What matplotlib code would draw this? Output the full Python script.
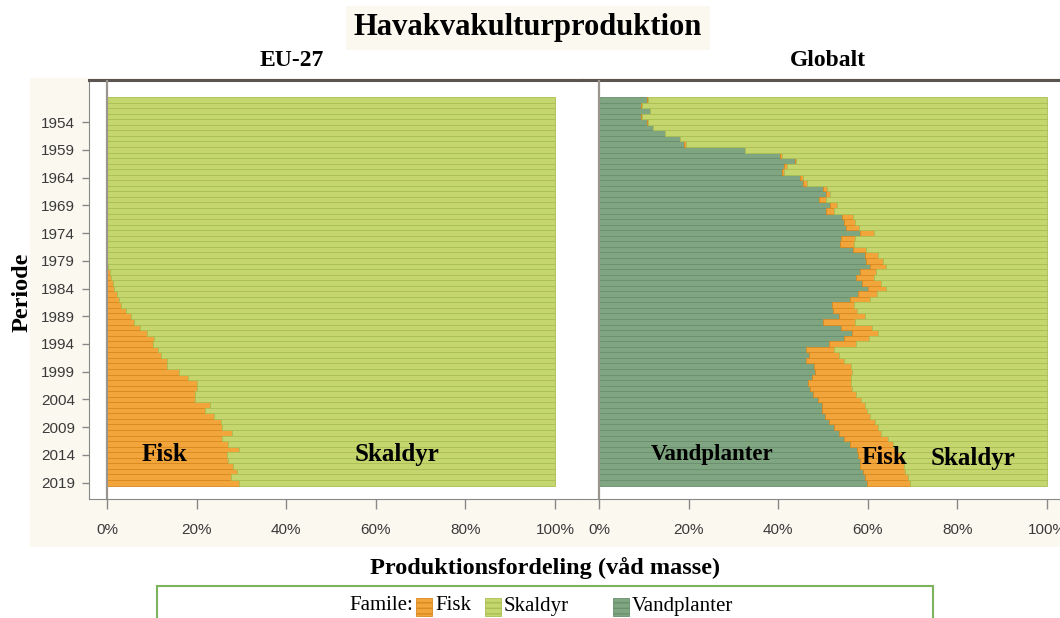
import numpy as np
import matplotlib.pyplot as plt
from matplotlib.patches import Rectangle

years = list(range(1950, 2020))

# andel i procent (våd masse)
eu_fisk = [0, 0, 0, 0, 0, 0, 0, 0, 0, 0,
           0, 0, 0, 0, 0, 0, 0, 0, 0, 0,
           0, 0, 0, 0, 0, 0, 0, 0, 0, 0.1,
           0.3, 0.6, 0.9, 1.3, 1.6, 2.2, 2.8, 3.2, 4.3, 5.4,
           6.0, 7.3, 9.0, 10.6, 10.3, 11.3, 12.1, 13.3, 13.5, 16.0,
           18.2, 20.1, 20.0, 19.7, 19.6, 23.0, 21.9, 24.0, 25.5, 25.6,
           28.0, 25.6, 27.1, 29.5, 26.8, 27.0, 28.2, 29.0, 27.8, 29.5]
eu_vand = [0, 0, 0, 0, 0, 0, 0, 0, 0, 0,
           0, 0, 0, 0, 0, 0, 0, 0, 0, 0,
           0, 0, 0, 0, 0, 0, 0, 0, 0, 0,
           0, 0, 0, 0, 0, 0, 0, 0, 0, 0,
           0, 0, 0, 0, 0, 0, 0, 0, 0, 0,
           0, 0, 0, 0, 0, 0, 0, 0, 0, 0,
           0, 0, 0, 0, 0, 0, 0, 0, 0, 0]

glob_vand = [10.8, 9.3, 11.3, 9.4, 10.7, 12.0, 14.7, 18.2, 19.1, 32.6,
             40.5, 43.8, 41.3, 40.9, 44.9, 45.5, 50.0, 50.6, 49.1, 51.6,
             50.6, 54.3, 54.6, 55.2, 58.3, 54.0, 53.9, 56.8, 59.4, 59.6,
             60.4, 58.3, 57.4, 58.8, 60.1, 57.8, 56.1, 52.0, 52.2, 53.7,
             50.1, 54.0, 56.5, 54.8, 51.4, 46.3, 46.8, 46.3, 48.0, 48.2,
             47.5, 46.7, 47.1, 47.7, 49.0, 49.8, 49.8, 50.5, 51.3, 52.5,
             53.5, 54.8, 56.1, 57.7, 57.9, 58.3, 58.3, 59.0, 59.4, 59.8]
glob_fisk = [0.1, 0.3, 0.0, 0.3, 0.3, 0.0, 0.1, 0.0, 0.3, 0.1,
             0.4, 0.3, 0.6, 0.4, 0.6, 1.0, 1.0, 1.0, 1.6, 1.6,
             1.9, 2.5, 2.6, 2.8, 3.2, 3.1, 3.1, 2.9, 3.0, 3.7,
             3.7, 3.6, 4.1, 4.1, 4.0, 4.2, 4.5, 5.0, 5.4, 5.8,
             7.1, 7.0, 5.7, 5.4, 5.9, 6.2, 6.9, 8.3, 8.3, 8.2,
             8.7, 9.5, 9.5, 9.6, 9.4, 9.6, 10.0, 9.9, 10.3, 9.8,
             9.4, 9.8, 9.5, 8.8, 9.7, 9.7, 9.9, 9.4, 9.7, 9.7]

ytick_years = [1954, 1959, 1964, 1969, 1974, 1979, 1984, 1989, 1994, 1999,
               2004, 2009, 2014, 2019]
xticks = [0, 20, 40, 60, 80, 100]

c_fisk, e_fisk = '#F2A53A', '#D9891E'
c_skal, e_skal = '#C5D66E', '#A8BE52'
c_vand, e_vand = '#80A581', '#6A8F6E'
cream = '#FBF8F0'
serif = ['Liberation Serif', 'DejaVu Serif']

plt.rcParams['font.family'] = ['Liberation Sans', 'DejaVu Sans']

W, H = 1060, 618
PX_PER_PCT = 4.48
fig = plt.figure(figsize=(W / 100, H / 100), dpi=100)


def fx(px):
    return px / W


def fy(py):
    return 1 - py / H


# creme baggrund bag plotområdet
fig.patches.append(Rectangle((fx(30), fy(547)), fx(1030), 469 / H, transform=fig.transFigure,
                             facecolor=cream, edgecolor='none', zorder=-5))


def panel(ax, width_px, vand, fisk, show_y):
    y = np.array(years)
    v = np.array(vand)
    f = np.array(fisk)
    s = 100 - v - f
    ax.barh(y, v, height=1.0, color=c_vand, edgecolor=e_vand, linewidth=0.6)
    ax.barh(y, f, left=v, height=1.0, color=c_fisk, edgecolor=e_fisk, linewidth=0.6)
    ax.barh(y, s, left=v + f, height=1.0, color=c_skal, edgecolor=e_skal, linewidth=0.6)
    ax.axvline(0, color='#9a958e', lw=1.6, zorder=3)
    ax.set_xlim(-4.0, -4.0 + width_px / PX_PER_PCT)
    ax.set_ylim(2021.93, 1946.43)
    ax.set_xticks(xticks)
    ax.set_xticklabels([f'{t}%' for t in xticks])
    ax.set_facecolor('white')
    ax.tick_params(axis='x', length=7, width=1, color='#888888', pad=10,
                   labelsize=11, labelcolor='#3a3a3a')
    ax.spines['top'].set_color('#5a5550')
    ax.spines['top'].set_linewidth(2.2)
    ax.spines['right'].set_visible(False)
    ax.spines['bottom'].set_color('#888888')
    if show_y:
        ax.set_yticks(ytick_years)
        ax.tick_params(axis='y', length=5, width=1, color='#888888', pad=5,
                       labelsize=11, labelcolor='#3a3a3a')
        ax.spines['left'].set_color('#888888')
    else:
        ax.set_yticks([])
        ax.spines['left'].set_visible(False)


ax1 = fig.add_axes([fx(89), fy(499), fx(493), 419 / H])
ax2 = fig.add_axes([fx(581), fy(499), fx(491), 419 / H])
ax1.set_zorder(2)
ax2.set_zorder(3)
panel(ax1, 493, eu_vand, eu_fisk, True)
panel(ax2, 491, glob_vand, glob_fisk, False)

lbl = dict(family=serif, fontweight='bold', ha='center', va='center', color='black', zorder=5)
ax1.text(12.9, 2014, 'Fisk', fontsize=18, **lbl)
ax1.text(64.7, 2014, 'Skaldyr', fontsize=18, **lbl)
ax2.text(25.3, 2014, 'Vandplanter', fontsize=16.5, **lbl)
ax2.text(63.8, 2014.4, 'Fisk', fontsize=18, **lbl)
ax2.text(83.4, 2014.7, 'Skaldyr', fontsize=18, **lbl)

# titler
fig.text(fx(528), fy(28), 'Havakvakulturproduktion', family=serif, fontweight='bold',
         fontsize=22, ha='center', va='center',
         bbox=dict(boxstyle='square,pad=0.25', facecolor=cream, edgecolor='none'))
fig.text(fx(292), fy(60), 'EU-27', family=serif, fontweight='bold', fontsize=17,
         ha='center', va='center')
fig.text(fx(828), fy(60), 'Globalt', family=serif, fontweight='bold', fontsize=17,
         ha='center', va='center')
fig.text(fx(22), fy(292), 'Periode', family=serif, fontweight='bold', fontsize=17.5,
         ha='center', va='center', rotation=90)
fig.text(fx(545), fy(568), 'Produktionsfordeling (våd masse)', family=serif,
         fontweight='bold', fontsize=17.5, ha='center', va='center')

# forklaring
fig.patches.append(Rectangle((fx(157), fy(630)), fx(776), 44 / H, transform=fig.transFigure,
                             facecolor='white', edgecolor='#7DB35C', linewidth=1.5, zorder=1))
ly = fy(606)
fig.text(fx(413), ly, 'Famile:', family=serif, fontsize=15, ha='right', va='center')
entries = [(416, c_fisk, e_fisk, 'Fisk'), (485, c_skal, e_skal, 'Skaldyr'),
           (613, c_vand, e_vand, 'Vandplanter')]
for px, fc, ec, name in entries:
    fig.patches.append(Rectangle((fx(px), fy(616)), fx(16), 18 / H, transform=fig.transFigure,
                                 facecolor=fc, edgecolor=ec, hatch='---', linewidth=0.6, zorder=2))
    fig.text(fx(px + 19), ly, name, family=serif, fontsize=15, ha='left', va='center')

fig.savefig('out.png', dpi=100, facecolor='white')
